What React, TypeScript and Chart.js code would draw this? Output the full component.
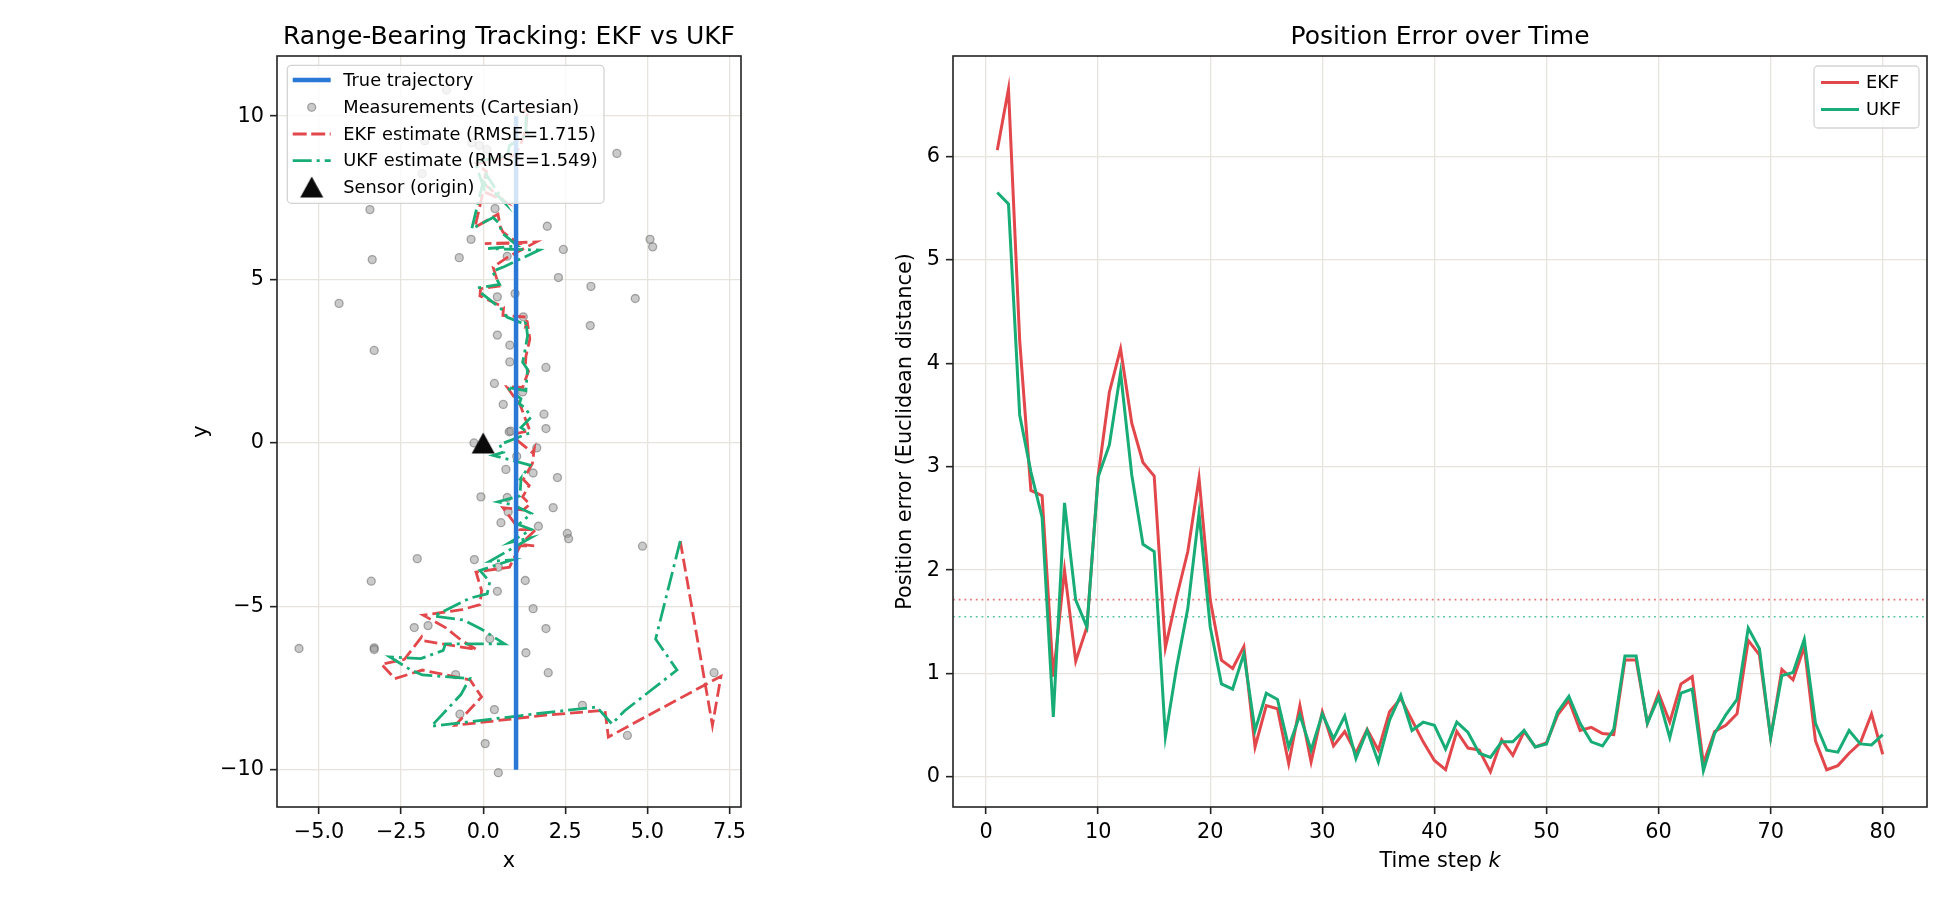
import React, { useEffect, useRef } from "react";
import { Chart, registerables } from "chart.js";

Chart.register(...registerables);

const FONT = "'DejaVu Sans', 'Liberation Sans', sans-serif";
const MINUS = "\u2212";
const BLUE = "#2a78d6";
const RED = "#e2474b";
const GREEN = "#18ad76";
const GRID = "#e6e4dd";

// ---------------- Left panel data ----------------
const trueX = [1, 1];
const trueY = [-10, 10];

const measX = [-1.12, -1.78, -0.35, -0.12, 0.11, 4.07, -1.86, -3.45, 0.36, 1.95, -0.37, 5.08, 5.16, 2.44, -3.38, -0.73, 0.73, 2.29, 3.28, 4.63, -4.39, 0.43, 0.97, 3.26, 1.22, 0.43, 0.81, -3.32, 0.81, 1.91, 0.34, 1.2, 0.61, 1.85, 1.91, 0.79, 0.84, -0.28, 1.63, 1.02, 0.69, 1.52, 2.26, -0.07, 0.73, 2.13, 0.76, 0.54, 1.68, 2.56, 2.6, 4.85, -2.01, -0.27, 0.46, -3.41, 1.28, 0.43, 1.52, 1.91, -2.1, -1.68, 0.2, -5.61, -3.32, -3.32, 1.3, -0.84, 1.98, 7.03, 3.02, 0.34, -0.71, 4.39, 0.06, 0.46];
const measY = [10.8, 9.25, 9.18, 9.1, 8.98, 8.86, 8.24, 7.14, 7.17, 6.63, 6.23, 6.23, 6.0, 5.92, 5.61, 5.67, 5.71, 5.06, 4.79, 4.42, 4.27, 4.47, 4.57, 3.59, 3.86, 3.3, 2.99, 2.83, 2.48, 2.31, 1.82, 1.56, 1.18, 0.88, 0.44, 0.34, 0.36, 0.0, -0.15, -0.41, -0.81, -0.92, -1.06, -1.65, -1.67, -1.98, -2.11, -2.44, -2.55, -2.77, -2.93, -3.16, -3.54, -3.57, -3.8, -4.23, -4.21, -4.54, -5.07, -5.68, -5.65, -5.59, -5.99, -6.29, -6.27, -6.32, -6.42, -7.09, -7.03, -7.03, -8.03, -8.16, -8.3, -8.95, -9.2, -10.09];

const ekfX = [6.0, 6.98, 7.24, 5.0, 3.81, 3.71, 1.9, -0.85, -0.05, -0.4, -1.85, -2.69, -3.1, -2.4, -1.88, -1.85, -0.2, -0.65, -1.15, -1.83, -0.65, -0.1, -0.05, -0.22, 0.8, 1.15, 1.55, 1.08, 1.6, 1.1, 0.6, 1.22, 1.42, 1.2, 1.4, 1.22, 1.5, 1.55, 1.5, 1.32, 0.95, 1.05, 1.42, 1.25, 1.1, 1.03, 0.72, 1.2, 1.38, 1.28, 1.3, 1.42, 1.35, 1.3, 1.35, 0.6, 0.62, -0.1, -0.08, 0.48, 0.3, 0.8, 1.62, 0.05, 1.08, 0.6, 0.52, 0.45, -0.25, 0.0, 0.65, 0.0, 0.1, -0.2, 0.75, 0.95, 1.1, 1.2, 1.3, 1.35, 1.2];
const ekfY = [-3.0, -8.64, -7.14, -8.35, -9.0, -8.18, -8.33, -8.64, -7.77, -7.25, -6.95, -7.21, -6.77, -6.62, -5.94, -6.05, -6.32, -6.05, -5.65, -5.27, -5.1, -4.95, -4.51, -3.95, -3.8, -3.1, -3.15, -3.15, -2.65, -2.65, -1.98, -2.05, -1.88, -1.65, -1.3, -1.12, -0.62, -0.2, -0.3, -0.15, 0.15, 0.3, 0.38, 0.82, 1.24, 1.28, 1.72, 1.7, 2.2, 2.3, 2.65, 3.18, 3.65, 3.6, 3.85, 3.9, 4.15, 4.5, 4.72, 4.8, 5.38, 5.72, 6.15, 6.1, 6.1, 6.45, 6.62, 7.0, 6.6, 7.7, 7.4, 7.95, 8.3, 8.55, 8.75, 8.8, 9.05, 9.3, 9.6, 10.25, 10.1];

const ukfX = [6.0, 5.25, 5.9, 4.3, 3.92, 3.46, 1.5, -1.58, -0.68, -0.41, -1.85, -2.2, -2.84, -1.9, -1.22, -1.15, 0.65, -0.05, -0.6, -1.5, -0.41, 0.12, 0.2, -0.1, 0.87, 0.2, 1.45, 0.8, 1.47, 1.07, 1.47, 0.92, 0.45, 1.12, 1.15, 1.1, 1.42, 0.3, 0.62, 0.5, 1.4, 1.15, 1.45, 1.3, 1.1, 1.15, 0.72, 1.3, 1.35, 1.2, 1.25, 1.35, 1.3, 1.28, 1.3, 0.72, 0.55, -0.1, -0.12, 0.5, 0.28, 0.65, 1.7, 0.15, 1.05, 0.6, 0.45, 0.3, -0.35, 0.0, 0.65, 0.1, 0.05, -0.25, 0.55, 0.75, 0.8, 1.4, 1.3, 1.3, 1.35];
const ukfY = [-3.0, -6.0, -6.95, -8.2, -8.6, -8.08, -8.3, -8.67, -7.7, -7.21, -7.1, -6.95, -6.55, -6.6, -6.35, -6.15, -6.15, -5.7, -5.42, -5.3, -4.75, -4.62, -4.25, -3.9, -3.58, -3.62, -2.9, -3.05, -2.65, -2.5, -2.16, -1.9, -1.8, -1.62, -1.08, -1.15, -0.68, -0.38, -0.28, -0.05, 0.3, 0.47, 0.78, 1.05, 1.2, 1.35, 1.7, 1.6, 2.25, 2.47, 2.7, 3.28, 3.72, 3.7, 3.62, 3.85, 4.1, 4.62, 4.75, 4.85, 5.25, 5.4, 5.9, 5.95, 6.03, 6.4, 6.75, 6.9, 6.55, 8.0, 7.35, 8.2, 7.7, 8.6, 8.75, 8.85, 9.1, 9.45, 9.55, 9.85, 10.2];

const sensorX = [0];
const sensorY = [0];

const leftXTicks = [-5, -2.5, 0, 2.5, 5, 7.5];
const leftYTicks = [-10, -5, 0, 5, 10];

// ---------------- Right panel data ----------------
const timeSteps = [1, 2, 3, 4, 5, 6, 7, 8, 9, 10, 11, 12, 13, 14, 15, 16, 17, 18, 19, 20, 21, 22, 23, 24, 25, 26, 27, 28, 29, 30, 31, 32, 33, 34, 35, 36, 37, 38, 39, 40, 41, 42, 43, 44, 45, 46, 47, 48, 49, 50, 51, 52, 53, 54, 55, 56, 57, 58, 59, 60, 61, 62, 63, 64, 65, 66, 67, 68, 69, 70, 71, 72, 73, 74, 75, 76, 77, 78, 79, 80];
const ekfError = [6.06, 6.65, 4.22, 2.77, 2.72, 0.97, 2.0, 1.12, 1.45, 2.91, 3.72, 4.14, 3.42, 3.04, 2.91, 1.25, 1.74, 2.18, 2.89, 1.71, 1.13, 1.05, 1.26, 0.29, 0.69, 0.66, 0.13, 0.69, 0.145, 0.63, 0.3, 0.44, 0.23, 0.46, 0.26, 0.63, 0.76, 0.55, 0.34, 0.16, 0.07, 0.44, 0.28, 0.26, 0.05, 0.36, 0.21, 0.44, 0.29, 0.33, 0.6, 0.74, 0.45, 0.48, 0.42, 0.41, 1.13, 1.13, 0.52, 0.81, 0.53, 0.9, 0.97, 0.13, 0.44, 0.5, 0.61, 1.32, 1.18, 0.38, 1.04, 0.94, 1.26, 0.35, 0.07, 0.11, 0.23, 0.33, 0.61, 0.22];
const ukfError = [5.65, 5.54, 3.5, 2.95, 2.51, 0.58, 2.65, 1.71, 1.45, 2.9, 3.21, 3.91, 2.92, 2.25, 2.18, 0.39, 1.06, 1.63, 2.55, 1.45, 0.9, 0.85, 1.19, 0.45, 0.81, 0.75, 0.29, 0.6, 0.26, 0.61, 0.37, 0.59, 0.18, 0.45, 0.145, 0.55, 0.79, 0.45, 0.53, 0.5, 0.27, 0.53, 0.43, 0.23, 0.19, 0.34, 0.34, 0.45, 0.29, 0.32, 0.63, 0.78, 0.52, 0.34, 0.3, 0.46, 1.17, 1.17, 0.52, 0.77, 0.38, 0.81, 0.85, 0.06, 0.42, 0.6, 0.75, 1.44, 1.24, 0.38, 0.98, 1.01, 1.33, 0.52, 0.26, 0.24, 0.45, 0.32, 0.31, 0.41];
const ekfRmse = 1.715;
const ukfRmse = 1.549;
const rightXTicks = [0, 10, 20, 30, 40, 50, 60, 70, 80];
const rightYTicks = [0, 1, 2, 3, 4, 5, 6];

// axis limits
const LX_MIN = -6.28, LX_MAX = 7.85, LY_MIN = -11.14, LY_MAX = 11.84;
const RX_MIN = -2.95, RX_MAX = 83.95, RY_MIN = -0.29, RY_MAX = 6.97;

const pts = (xs: number[], ys: number[]) => xs.map((x, i) => ({ x, y: ys[i] }));

function fmtTick(v: number, dec: number) {
  const s = Math.abs(v).toFixed(dec);
  return (v < 0 ? MINUS : "") + s;
}

function makeAxis(min: number, max: number, ticks: number[], dec: number, fit: (s: any) => void) {
  return {
    type: "linear" as const,
    min,
    max,
    afterBuildTicks: (s: any) => {
      s.ticks = ticks.map((v) => ({ value: v }));
    },
    afterFit: fit,
    ticks: {
      autoSkip: false,
      maxRotation: 0,
      minRotation: 0,
      padding: 6,
      color: "#000",
      font: { family: FONT, size: 20.8 },
      callback: (v: any) => fmtTick(Number(v), dec),
    },
    grid: {
      color: GRID,
      lineWidth: 1.3,
      drawTicks: true,
      tickLength: 7,
      tickColor: "#222",
      tickWidth: 1.6,
    },
    border: { display: false },
  };
}

function makeTriangle() {
  const c = document.createElement("canvas");
  c.width = 26;
  c.height = 24;
  const g = c.getContext("2d")!;
  g.fillStyle = "#0a0a0a";
  g.beginPath();
  g.moveTo(13, 1.5);
  g.lineTo(1.5, 22.5);
  g.lineTo(24.5, 22.5);
  g.closePath();
  g.fill();
  return c;
}

function legendBox(ctx: CanvasRenderingContext2D, x0: number, y0: number, x1: number, y1: number) {
  ctx.save();
  ctx.beginPath();
  (ctx as any).roundRect(x0, y0, x1 - x0, y1 - y0, 4);
  ctx.fillStyle = "rgba(255,255,255,0.8)";
  ctx.fill();
  ctx.strokeStyle = "#d4d4d4";
  ctx.lineWidth = 1.3;
  ctx.stroke();
  ctx.restore();
}

function handleLine(ctx: CanvasRenderingContext2D, x0: number, x1: number, y: number, color: string, w: number, dash: number[]) {
  ctx.save();
  ctx.strokeStyle = color;
  ctx.lineWidth = w;
  ctx.setLineDash(dash);
  ctx.beginPath();
  ctx.moveTo(x0, y);
  ctx.lineTo(x1, y);
  ctx.stroke();
  ctx.restore();
}

function spine(ctx: CanvasRenderingContext2D, a: any) {
  ctx.save();
  ctx.strokeStyle = "#222";
  ctx.lineWidth = 1.6;
  ctx.strokeRect(a.left, a.top, a.right - a.left, a.bottom - a.top);
  ctx.restore();
}

function text(ctx: CanvasRenderingContext2D, s: string, x: number, y: number, size: number, align: CanvasTextAlign = "center", base: CanvasTextBaseline = "middle") {
  ctx.save();
  ctx.font = `${size}px ${FONT}`;
  ctx.fillStyle = "#000";
  ctx.textAlign = align;
  ctx.textBaseline = base;
  ctx.fillText(s, x, y);
  ctx.restore();
}

function vtext(ctx: CanvasRenderingContext2D, s: string, x: number, y: number, size: number) {
  ctx.save();
  ctx.translate(x, y);
  ctx.rotate(-Math.PI / 2);
  ctx.font = `${size}px ${FONT}`;
  ctx.fillStyle = "#000";
  ctx.textAlign = "center";
  ctx.textBaseline = "middle";
  ctx.fillText(s, 0, 0);
  ctx.restore();
}

const LEFT_W = 760;
const RIGHT_OFF = 760;
const RIGHT_W = 1190;
const H = 900;
const XLABEL_Y = 862;

const MEAS_FILL = "rgba(150,150,150,0.5)";
const MEAS_EDGE = "rgba(95,95,95,0.5)";

function leftConfig(tri: HTMLCanvasElement): any {
  const overlay = {
    id: "leftOverlay",
    afterDraw(chart: any) {
      const ctx = chart.ctx as CanvasRenderingContext2D;
      const a = chart.chartArea;
      spine(ctx, a);
      const cx = (a.left + a.right) / 2;
      text(ctx, "Range-Bearing Tracking: EKF vs UKF", cx, 43.5, 25, "center", "alphabetic");
      text(ctx, "x", cx, XLABEL_Y, 20.8);
      vtext(ctx, "y", 201.5, (a.top + a.bottom) / 2, 20.8);
      // legend
      legendBox(ctx, 287.3, 65.3, 604, 203.3);
      const hx0 = 292.7, hx1 = 330.7, hc = 311.7, tx = 343.3;
      const rows = [80, 107.3, 134, 160.7, 187];
      handleLine(ctx, hx0, hx1, rows[0], BLUE, 4.5, []);
      ctx.save();
      ctx.beginPath();
      ctx.arc(hc, rows[1], 4, 0, Math.PI * 2);
      ctx.fillStyle = MEAS_FILL;
      ctx.fill();
      ctx.strokeStyle = MEAS_EDGE;
      ctx.lineWidth = 1.3;
      ctx.stroke();
      ctx.restore();
      handleLine(ctx, hx0, hx1, rows[2], RED, 2.8, [14, 4.5]);
      handleLine(ctx, hx0, hx1, rows[3], GREEN, 2.8, [19, 5, 3, 5]);
      ctx.drawImage(tri, hc - 13, rows[4] - 12);
      const labels = [
        "True trajectory",
        "Measurements (Cartesian)",
        "EKF estimate (RMSE=1.715)",
        "UKF estimate (RMSE=1.549)",
        "Sensor (origin)",
      ];
      labels.forEach((l, i) => text(ctx, l, tx, rows[i] + 1, 17.8, "left", "middle"));
    },
  };
  return {
    type: "scatter",
    data: {
      datasets: [
        {
          label: "True trajectory",
          data: pts(trueX, trueY),
          showLine: true,
          borderColor: BLUE,
          backgroundColor: BLUE,
          borderWidth: 4.5,
          pointRadius: 0,
          order: 1,
        },
        {
          label: "Measurements (Cartesian)",
          data: pts(measX, measY),
          showLine: false,
          pointRadius: 4,
          backgroundColor: MEAS_FILL,
          borderColor: MEAS_EDGE,
          borderWidth: 1.3,
          order: 5,
        },
        {
          label: "EKF estimate (RMSE=1.715)",
          data: pts(ekfX, ekfY),
          showLine: true,
          borderColor: RED,
          backgroundColor: RED,
          borderWidth: 2.8,
          borderDash: [13, 5],
          pointRadius: 0,
          tension: 0,
          order: 4,
        },
        {
          label: "UKF estimate (RMSE=1.549)",
          data: pts(ukfX, ukfY),
          showLine: true,
          borderColor: GREEN,
          backgroundColor: GREEN,
          borderWidth: 2.8,
          borderDash: [19, 5, 3, 5],
          pointRadius: 0,
          tension: 0,
          order: 3,
        },
        {
          label: "Sensor (origin)",
          data: pts(sensorX, sensorY),
          showLine: false,
          pointStyle: tri,
          pointRadius: 12,
          order: 0,
        },
      ],
    },
    options: {
      animation: false,
      responsive: false,
      devicePixelRatio: 1,
      layout: { padding: { left: 0, right: LEFT_W - 741, top: 56, bottom: 0 } },
      plugins: { legend: { display: false }, tooltip: { enabled: false }, title: { display: false } },
      scales: {
        x: makeAxis(LX_MIN, LX_MAX, leftXTicks, 1, (s: any) => { s.height = H - 807; }),
        y: makeAxis(LY_MIN, LY_MAX, leftYTicks, 0, (s: any) => { s.width = 277; }),
      },
    },
    plugins: [overlay],
  };
}

function rightConfig(): any {
  const overlay = {
    id: "rightOverlay",
    afterDraw(chart: any) {
      const ctx = chart.ctx as CanvasRenderingContext2D;
      const a = chart.chartArea;
      spine(ctx, a);
      const cx = (a.left + a.right) / 2;
      text(ctx, "Position Error over Time", cx, 43.5, 25, "center", "alphabetic");
      // x label with italic k
      ctx.save();
      ctx.font = `20.8px ${FONT}`;
      const s1 = "Time step ";
      const w1 = ctx.measureText(s1).width;
      ctx.font = `italic 20.8px ${FONT}`;
      const w2 = ctx.measureText("k").width;
      const start = cx - (w1 + w2) / 2;
      ctx.fillStyle = "#000";
      ctx.textBaseline = "middle";
      ctx.textAlign = "left";
      ctx.font = `20.8px ${FONT}`;
      ctx.fillText(s1, start, XLABEL_Y);
      ctx.font = `italic 20.8px ${FONT}`;
      ctx.fillText("k", start + w1, XLABEL_Y);
      ctx.restore();
      vtext(ctx, "Position error (Euclidean distance)", 905.5 - RIGHT_OFF, (a.top + a.bottom) / 2, 20.8);
      // legend
      const ox = -RIGHT_OFF;
      legendBox(ctx, 1814 + ox, 66, 1919 + ox, 128);
      handleLine(ctx, 1821 + ox, 1859 + ox, 82.5, RED, 3, []);
      handleLine(ctx, 1821 + ox, 1859 + ox, 109.5, GREEN, 3, []);
      text(ctx, "EKF", 1866 + ox, 83.5, 17.8, "left", "middle");
      text(ctx, "UKF", 1866 + ox, 110.5, 17.8, "left", "middle");
    },
  };
  return {
    type: "scatter",
    data: {
      datasets: [
        {
          label: "EKF",
          data: pts(timeSteps, ekfError),
          showLine: true,
          borderColor: RED,
          backgroundColor: RED,
          borderWidth: 3,
          pointRadius: 0,
          tension: 0,
          order: 1,
        },
        {
          label: "UKF",
          data: pts(timeSteps, ukfError),
          showLine: true,
          borderColor: GREEN,
          backgroundColor: GREEN,
          borderWidth: 3,
          pointRadius: 0,
          tension: 0,
          order: 0,
        },
        {
          label: "EKF RMSE",
          data: pts([RX_MIN, RX_MAX], [ekfRmse, ekfRmse]),
          showLine: true,
          borderColor: "rgba(226,71,75,0.75)",
          borderWidth: 1.7,
          borderDash: [1.8, 3.9],
          pointRadius: 0,
          order: 2,
        },
        {
          label: "UKF RMSE",
          data: pts([RX_MIN, RX_MAX], [ukfRmse, ukfRmse]),
          showLine: true,
          borderColor: "rgba(24,173,118,0.75)",
          borderWidth: 1.7,
          borderDash: [1.8, 3.9],
          pointRadius: 0,
          order: 3,
        },
      ],
    },
    options: {
      animation: false,
      responsive: false,
      devicePixelRatio: 1,
      layout: { padding: { left: 0, right: RIGHT_W - (1927 - RIGHT_OFF), top: 56, bottom: 0 } },
      plugins: { legend: { display: false }, tooltip: { enabled: false }, title: { display: false } },
      scales: {
        x: makeAxis(RX_MIN, RX_MAX, rightXTicks, 0, (s: any) => { s.height = H - 807; }),
        y: makeAxis(RY_MIN, RY_MAX, rightYTicks, 0, (s: any) => { s.width = 953 - RIGHT_OFF; }),
      },
    },
    plugins: [overlay],
  };
}

export default function App() {
  const leftRef = useRef<HTMLCanvasElement>(null);
  const rightRef = useRef<HTMLCanvasElement>(null);

  useEffect(() => {
    const tri = makeTriangle();
    const c1 = new Chart(leftRef.current!, leftConfig(tri));
    const c2 = new Chart(rightRef.current!, rightConfig());
    return () => {
      c1.destroy();
      c2.destroy();
    };
  }, []);

  return (
    <div style={{ position: "absolute", left: 0, top: 0, width: 1950, height: 900, background: "#fff", overflow: "hidden" }}>
      <canvas ref={leftRef} width={LEFT_W} height={H} style={{ position: "absolute", left: 0, top: 0, width: LEFT_W, height: H }} />
      <canvas ref={rightRef} width={RIGHT_W} height={H} style={{ position: "absolute", left: RIGHT_OFF, top: 0, width: RIGHT_W, height: H }} />
    </div>
  );
}
